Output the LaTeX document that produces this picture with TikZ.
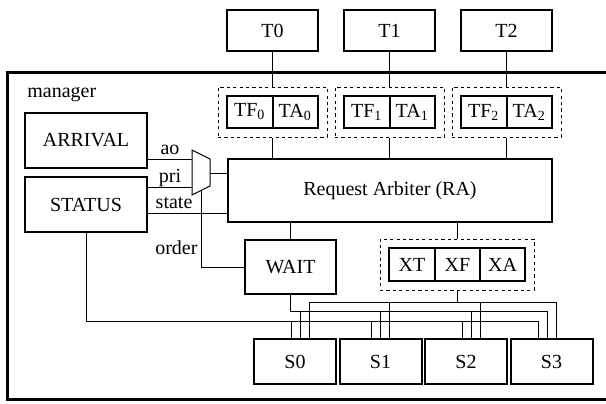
\documentclass[tikz,border=0pt]{standalone}
\usepackage{fontspec}
\setmainfont{Liberation Serif}
\usetikzlibrary{fit,calc}

\tikzset{
  box/.style={draw, line width=1pt, inner sep=0pt},
  grp/.style={draw, dash pattern=on 1.6pt off 1.6pt, line width=0.5pt, inner sep=4pt},
  wire/.style={line width=0.5pt},
  lbl/.style={inner sep=2pt, text depth=0pt}
}

\begin{document}
\begin{tikzpicture}[x=0.5pt,y=-0.5pt,font=\fontsize{10}{12}\selectfont]
\useasboundingbox (0,0) rectangle (606,403);
\clip (0,0) rectangle (606,403);
%manager
\draw[line width=1.5pt] (7,72) rectangle (640,399);
\path (27,95) node[anchor=west,inner sep=0pt] (mgr) {manager};
%blocks
\path (86,140.5) node[box,minimum width=61pt,minimum height=27.5pt] (arr) {ARRIVAL};
\path (86,204.5) node[box,minimum width=61pt,minimum height=27.5pt] (stat) {STATUS};
\path (390,190.5) node[box,minimum width=162pt,minimum height=31.5pt] (ra) {Request Arbiter (RA)};
\path (290.5,267) node[box,minimum width=45.5pt,minimum height=27pt] (wait) {WAIT};
\path (412,264.5) node[box,minimum width=23pt,minimum height=16.5pt] (xt) {XT};
\path (457.5,264.5) node[box,minimum width=22.5pt,minimum height=16.5pt] (xf) {XF};
\path (502.5,264.5) node[box,minimum width=22.5pt,minimum height=16.5pt] (xa) {XA};
\node[grp, fit=(xt)(xa)] (xgrp) {};
\draw[wire] (ra.south -| xgrp.north) -- (xgrp.north);
\draw[wire] (ra.south -| wait.north) -- (wait.north);
%tasks
\foreach \i/\x in {0/272.5,1/389.5,2/506.5}{
  \path (\x,30.5) node[box,minimum width=45.5pt,minimum height=20.5pt] (T\i) {T\i};
  \path (\x-22.75,112) node[box,minimum width=22.75pt,minimum height=16pt] (TF\i) {TF\textsubscript{\i}};
  \path (\x+22.75,112) node[box,minimum width=22.75pt,minimum height=16pt] (TA\i) {TA\textsubscript{\i}};
  \node[grp, fit=(TF\i)(TA\i)] (TG\i) {};
  \draw[wire] (T\i) -- (TG\i);
  \draw[wire] (TG\i) -- (TG\i.south |- ra.north);
}
%mux
\coordinate (mux) at (201,172.5);
\draw[wire] ($(mux)+(-9,-22.5)$) -- ($(mux)+(9,-13.5)$) -- ($(mux)+(9,13.5)$) -- ($(mux)+(-9,22.5)$) -- cycle;
\coordinate (muxa) at ($(mux)+(-9,-13.5)$);
\coordinate (muxb) at ($(mux)+(-9,14.5)$);
\coordinate (muxo) at ($(mux)+(9,0.5)$);
\coordinate (muxd) at ($(mux)+(0,18)$);
\coordinate (stin) at ($(stat.east)+(0,8.5)$);
\draw[wire] (arr.east |- muxa) -- node[lbl,above] {ao} (muxa);
\draw[wire] (stat.east |- muxb) -- node[lbl,above] {pri} (muxb);
\draw[wire] (stin) -- node[lbl,above,pos=0.33] {state} (stin -| ra.west);
\draw[wire] (muxo) -- (muxo -| ra.west);
\draw[wire] (muxd) -- node[lbl,left,pos=0.75,inner sep=1.5pt] {order} (muxd |- wait.west) -- (wait.west);
%servers
\foreach \i/\x in {0/295,1/380.5,2/466,3/551.5}
  \path (\x,361.5) node[box,minimum width=41pt,minimum height=22.5pt] (S\i) {S\i};
\foreach \s/\d in {S0/5,S1/0,S2/5,S3/-4.5}{
  \draw[wire] (stat.south) |- ($(\s.north)+(\d-9,-17)$) -- ($(\s.north)+(\d-9,0)$);
  \draw[wire] (wait.south) |- ($(\s.north)+(\d,-27)$) -- ($(\s.north)+(\d,0)$);
  \draw[wire] (xgrp.south) |- ($(\s.north)+(\d+9,-36)$) -- ($(\s.north)+(\d+9,0)$);
}
\end{tikzpicture}
\end{document}
